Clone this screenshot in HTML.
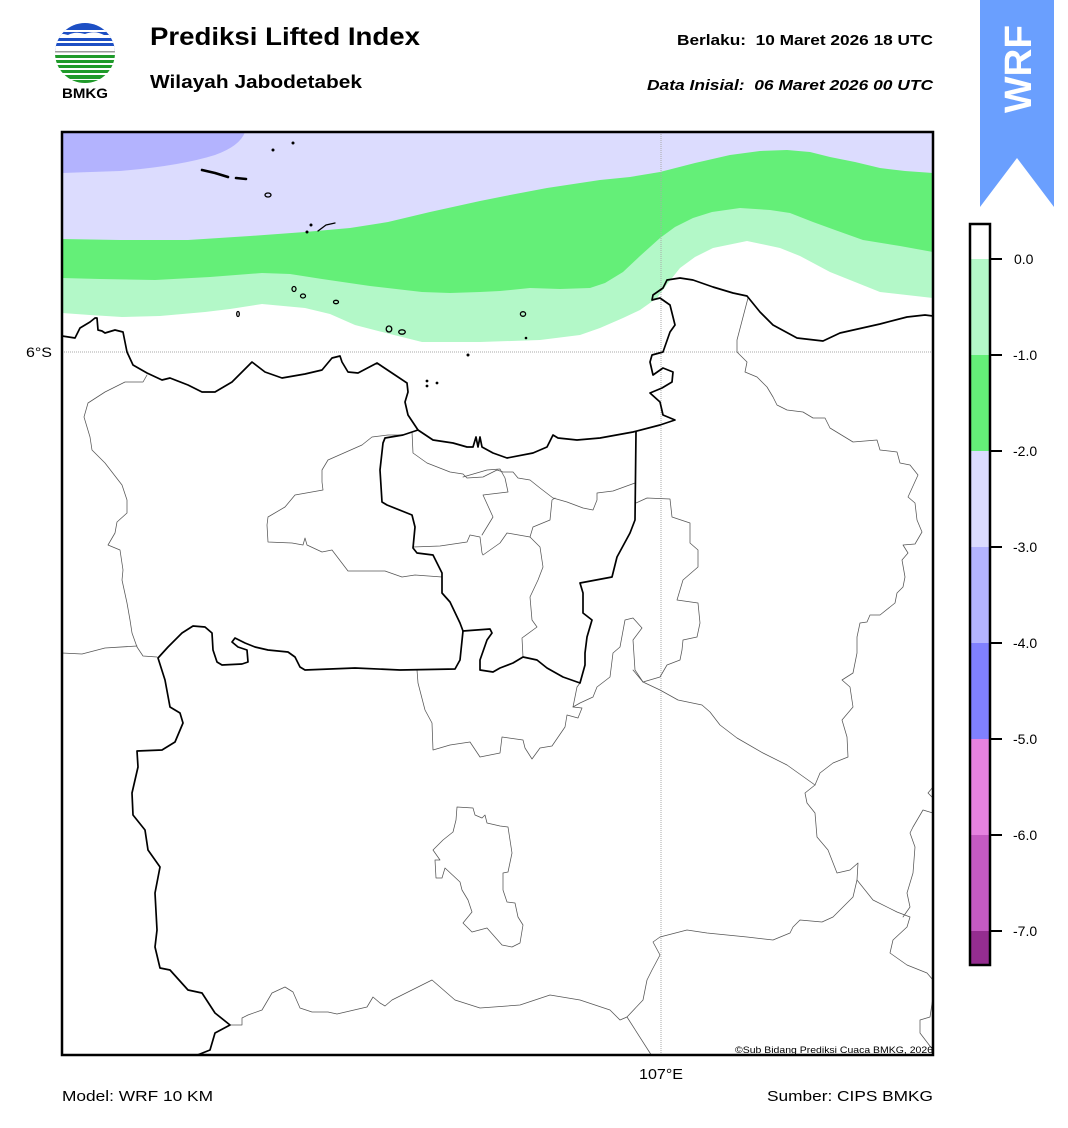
<!DOCTYPE html>
<html><head><meta charset="utf-8"><style>
html,body{margin:0;padding:0;background:#fff;}
svg{display:block;font-family:"Liberation Sans",Arial,sans-serif;}
.t{white-space:pre;}
</style></head><body>
<svg width="1068" height="1128" viewBox="0 0 1068 1128" xmlns="http://www.w3.org/2000/svg">
<defs>
<clipPath id="map"><rect x="62" y="132" width="871" height="923"/></clipPath>
<clipPath id="logo"><circle cx="85" cy="53" r="30"/></clipPath>
</defs>
<rect width="1068" height="1128" fill="#fff"/>

<!-- Logo -->
<g clip-path="url(#logo)">
<rect x="50" y="20" width="70" height="32" fill="#1d4fc4"/>
<rect x="50" y="30" width="70" height="2" fill="#fff"/>
<path d="M50,36 Q60,32 68,35 Q75,31 85,34 Q95,30 104,35 L120,35 L120,38 L50,38 Z" fill="#fff"/>
<rect x="50" y="41" width="70" height="2" fill="#fff"/>
<rect x="50" y="46" width="70" height="2" fill="#fff"/>
<rect x="50" y="48" width="70" height="4" fill="#fff"/>
<rect x="50" y="51" width="70" height="1.5" fill="#9a9a9a"/>
<rect x="50" y="54" width="70" height="36" fill="#fff"/>
<rect x="50" y="55" width="70" height="3" fill="#1f9a2a"/>
<rect x="50" y="60" width="70" height="3" fill="#1f9a2a"/>
<rect x="50" y="65" width="70" height="3" fill="#1f9a2a"/>
<rect x="55" y="70" width="65" height="3" fill="#1f9a2a"/>
<rect x="60" y="75" width="60" height="4" fill="#1f9a2a"/>
<rect x="65" y="80" width="50" height="4" fill="#1f9a2a"/>
</g>
<text x="62" y="98" font-size="14" font-weight="bold" textLength="46" lengthAdjust="spacingAndGlyphs">BMKG</text>

<!-- Titles -->
<text x="150" y="45" font-size="25" font-weight="bold" textLength="270" lengthAdjust="spacingAndGlyphs">Prediksi Lifted Index</text>
<text x="150" y="88" font-size="18" font-weight="bold" textLength="212" lengthAdjust="spacingAndGlyphs">Wilayah Jabodetabek</text>
<text class="t" x="677" y="45" font-size="15" font-weight="bold" textLength="256" lengthAdjust="spacingAndGlyphs">Berlaku:  10 Maret 2026 18 UTC</text>
<text class="t" x="647" y="90" font-size="15" font-weight="bold" font-style="italic" textLength="286" lengthAdjust="spacingAndGlyphs">Data Inisial:  06 Maret 2026 00 UTC</text>

<!-- WRF banner -->
<polygon points="980,0 1054,0 1054,207 1017,158 980,207" fill="#6a9ffe"/>
<text x="0" y="0" font-size="38" font-weight="bold" fill="#fff" text-anchor="middle" transform="translate(1031,69) rotate(-90)" textLength="88" lengthAdjust="spacingAndGlyphs">WRF</text>

<!-- Map fills -->
<g clip-path="url(#map)">
<path d="M62,132 L933,132 L933,298 L880,292 L830,272 L800,256 L780,248 L747,241 L713,248 L695,257 L680,268 L668,283 L657,298 L640,310 L623,318 L600,328 L580,335 L540,340 L480,342 L422,342 L390,334 L355,325 L330,314 L305,308 L262,304 L230,309 L205,312 L160,316 L122,317 L90,315 L62,313 Z" fill="#b3f8c8"/>
<path d="M62,132 L933,132 L933,252 L900,246 L863,240 L835,230 L813,222 L790,213 L770,210 L740,208 L712,212 L693,218 L675,227 L660,238 L640,256 L623,272 L605,283 L590,288 L560,289 L530,288 L500,291 L480,292 L450,293 L422,292 L370,286 L322,279 L290,274 L262,273 L210,277 L155,280 L100,279 L62,278 Z" fill="#64ef78"/>
<path d="M62,132 L933,132 L933,173 L905,171 L880,168 L855,162 L830,157 L810,152 L787,150 L760,151 L730,155 L695,163 L660,172 L630,177 L600,180 L547,188 L505,196 L480,201 L430,212 L388,222 L350,228 L305,232 L250,236 L188,240 L120,240 L62,239 Z" fill="#dcdcfe"/>
<path d="M62,132 L245,132 Q240,146 215,155 Q180,166 120,171 L62,173 Z" fill="#b3b3fe"/>
</g>

<!-- Grid lines -->
<line x1="62" y1="352" x2="933" y2="352" stroke="#aaa" stroke-width="1" stroke-dasharray="1,1"/>
<line x1="661" y1="132" x2="661" y2="1055" stroke="#aaa" stroke-width="1" stroke-dasharray="1,1"/>

<g clip-path="url(#map)" fill="none" stroke-linejoin="round" stroke-linecap="round">
<!-- thin admin borders -->
<g stroke="#555" stroke-width="0.75">
<path d="M147,375 L143,382 L125,382 L105,392 L88,403 L84,417 L90,437 L92,450 L105,463 L122,485 L127,500 L127,513 L117,522 L115,533 L108,545 L120,550 L123,570 L122,580 L127,603 L130,620 L132,633 L137,647 L143,656 L157,657"/>
<path d="M137,646 L105,648 L82,654 L62,653"/>
<path d="M412,432 L403,435 L388,435 L372,437 L362,445 L328,460 L322,470 L322,482 L323,490 L295,495 L285,507 L268,517 L267,525 L268,542 L292,543 L303,545 L305,538 L307,545 L322,552 L332,550 L348,571 L385,571 L402,577 L415,575 L442,577"/>
<path d="M412,432 L413,453 L427,463 L450,472 L463,474 L467,478 L483,477 L497,470 L503,472 L513,472 L518,478 L530,480 L540,488 L553,498 L567,502 L583,508 L593,510 L597,500 L597,493 L613,491 L635,483"/>
<path d="M413,547 L440,546 L467,542 L470,535 L480,537 L482,553 L483,555 L500,543 L507,533 L530,537 L540,547 L543,567 L538,580 L530,597 L532,620 L537,627 L522,638 L523,657"/>
<path d="M463,477 L487,470 L500,469 L505,478 L508,492 L483,495 L493,517 L482,535"/>
<path d="M530,537 L533,527 L550,520 L552,500 L555,498"/>
<path d="M636,503 L647,498 L670,499 L672,517 L690,523 L690,543 L698,550 L698,567 L683,580 L677,600 L698,603 L700,623 L697,637 L683,640 L682,650 L680,660 L667,665 L660,677 L643,682"/>
<path d="M643,682 L635,670 L633,640 L642,628 L633,618 L625,620 L620,647 L613,653 L610,677 L597,687 L593,697 L580,703 L573,707 L577,687 L580,683"/>
<path d="M633,670 L643,682 L660,690 L678,700 L702,705 L710,712 L720,725 L737,738 L763,753 L787,765 L815,785"/>
<path d="M748,298 L737,340 L737,352 L747,362 L745,372 L757,377 L767,387 L773,397 L777,405 L787,410 L803,412 L813,418 L825,418 L830,428 L853,442 L877,440 L880,450 L897,452 L900,463 L910,465 L918,475 L908,497 L915,503 L917,520 L922,532 L915,544 L903,545 L908,553 L902,560 L905,577 L903,587 L897,593 L895,603 L880,615 L870,615 L867,622 L860,623 L857,637 L857,653 L853,673 L842,680 L850,687 L853,707 L842,720 L847,737 L848,757 L833,763 L820,773 L815,785 L805,793 L807,803 L815,813 L817,837 L828,850 L837,873 L850,870 L858,863 L857,880 L873,900 L897,912 L910,917 L907,927 L893,940 L890,953 L907,965 L927,973 L933,980"/>
<path d="M857,880 L853,897 L833,917 L822,922 L800,920 L793,927 L790,933 L773,940 L747,937 L707,933 L687,930 L660,937 L653,942 L660,955 L652,970 L647,980 L643,1000 L627,1017 L620,1020 L610,1010 L580,1000 L550,995 L520,1005 L480,1008 L455,1000 L432,980 L392,1000 L385,1006 L380,1003 L373,997 L367,1007 L337,1014 L328,1012 L312,1012 L300,1008 L293,992 L285,987 L272,993 L262,1010 L248,1015 L242,1018 L242,1025 L230,1025"/>
<path d="M627,1017 L650,1053 L652,1056"/>
<path d="M933,787 L928,793 L933,798"/>
<path d="M933,813 L923,810 L913,827 L910,833 L915,847 L913,873 L907,893 L910,907 L903,917"/>
<path d="M933,997 L930,1017 L920,1020 L920,1033 L933,1050"/>
<path d="M417,670 L418,683 L425,710 L432,723 L433,750 L450,745 L470,742 L480,757 L500,753 L502,737 L523,740 L525,748 L532,759 L540,748 L552,746 L565,727 L567,715 L578,718 L582,708 L573,707"/>
<path d="M457,807 L473,808 L475,815 L482,818 L485,815 L487,823 L500,826 L508,827 L512,853 L508,872 L503,873 L503,890 L507,902 L515,903 L518,917 L523,925 L520,943 L512,947 L502,945 L487,928 L472,932 L463,923 L472,912 L468,900 L462,890 L460,882 L445,868 L442,878 L436,878 L435,860 L440,860 L433,850 L443,840 L453,832 L456,820 Z"/>
</g>

<!-- thick: coastline and province borders -->
<g stroke="#000" stroke-width="1.7">
<path d="M62,336 L75,338 L80,328 L90,322 L95,318 L97,318 L98,330 L102,331 L105,333 L115,330 L123,332 L125,342 L127,352 L133,365 L147,373 L162,380 L170,378 L188,385 L202,392 L215,392 L232,382 L242,372 L252,362 L265,372 L282,378 L305,374 L322,370 L332,358 L340,356 L342,362 L348,372 L358,373 L377,363 L395,375 L407,383 L408,392 L405,402 L408,415 L418,430 L433,440 L453,443 L467,447 L473,447 L476,437 L478,447 L480,437 L482,447 L493,453 L507,458 L533,453 L547,447 L553,435 L558,438 L577,440 L600,438 L633,432 L660,425 L675,420 L663,415 L660,402 L650,393 L662,388 L672,382 L673,372 L663,368 L653,375 L650,362 L652,355 L663,352 L670,332 L675,325 L670,305 L660,298 L652,300 L653,295 L663,288 L667,280 L680,278 L693,280 L713,287 L733,293 L747,296 L760,312 L773,325 L797,338 L823,341 L840,333 L880,324 L907,317 L925,315 L933,316"/>
<path d="M418,430 L403,435 L385,438 L383,443 L380,470 L382,502 L387,505 L412,515 L415,527 L413,548 L417,553 L433,555 L442,573 L442,593 L450,602 L460,623 L463,631 L460,660 L455,669 L400,670 L355,668 L305,670 L300,667 L295,657 L288,652 L268,650 L255,647 L245,643 L235,638 L232,642 L238,647 L247,650 L248,662 L242,664 L222,665 L217,662 L213,650 L212,633 L205,627 L193,626 L182,633 L168,647 L158,658 L165,680 L170,707 L180,713 L183,723 L175,742 L162,750 L137,751 L138,767 L132,793 L133,815 L145,830 L148,850 L160,867 L155,893 L157,930 L155,947 L160,968 L170,970 L188,990 L202,993 L215,1013 L230,1025 L215,1033 L210,1050 L195,1056"/>
<path d="M463,631 L490,629 L492,633 L487,640 L480,660 L480,670 L493,672 L500,668 L513,663 L523,657 L537,660 L547,668 L563,677 L580,683 L585,665 L585,653 L587,637 L592,620 L583,613 L583,593 L580,583 L612,577 L617,557 L630,533 L635,520 L636,432"/>
</g>
<!-- islands -->
<g stroke="#000" stroke-width="1.3">
<path d="M202,170 L215,173 L228,177" stroke-width="2.6"/>
<path d="M236,178 L246,179" stroke-width="2.6"/>
<ellipse cx="268" cy="195" rx="3" ry="2"/>
<path d="M318,231 L326,225 L335,223"/>
<ellipse cx="294" cy="289" rx="2" ry="2.5"/>
<ellipse cx="303" cy="296" rx="2.5" ry="2"/>
<ellipse cx="336" cy="302" rx="2.5" ry="1.7"/>
<ellipse cx="238" cy="314" rx="1.3" ry="2.5"/>
<ellipse cx="389" cy="329" rx="2.8" ry="3"/>
<ellipse cx="402" cy="332" rx="3.3" ry="2.2"/>
<ellipse cx="523" cy="314" rx="2.6" ry="2.3"/>
</g>
<g fill="#000">
<circle cx="273" cy="150" r="1.5"/>
<circle cx="293" cy="143" r="1.5"/>
<circle cx="307" cy="232" r="1.5"/>
<circle cx="311" cy="225" r="1.5"/>
<circle cx="468" cy="355" r="1.5"/>
<circle cx="526" cy="338" r="1.3"/>
<circle cx="427" cy="381" r="1.4"/>
<circle cx="427" cy="386" r="1.4"/>
<circle cx="437" cy="383" r="1.4"/>
</g>
</g>

<!-- Map frame -->
<rect x="62" y="132" width="871" height="923" fill="none" stroke="#000" stroke-width="2.5"/>

<text x="933" y="1053" font-size="9.5" text-anchor="end" textLength="198" lengthAdjust="spacingAndGlyphs">©Sub Bidang Prediksi Cuaca BMKG, 2026</text>
<text x="26" y="357" font-size="14" textLength="26" lengthAdjust="spacingAndGlyphs">6°S</text>
<text x="639" y="1079" font-size="15" textLength="44" lengthAdjust="spacingAndGlyphs">107°E</text>
<text x="62" y="1101" font-size="15" textLength="151" lengthAdjust="spacingAndGlyphs">Model: WRF 10 KM</text>
<text x="767" y="1101" font-size="15" textLength="166" lengthAdjust="spacingAndGlyphs">Sumber: CIPS BMKG</text>

<!-- Colorbar -->
<rect x="970" y="224" width="20" height="35" fill="#fff"/>
<rect x="970" y="259" width="20" height="96" fill="#b3f8c8"/>
<rect x="970" y="355" width="20" height="96" fill="#64ef78"/>
<rect x="970" y="451" width="20" height="96" fill="#dcdcfe"/>
<rect x="970" y="547" width="20" height="96" fill="#b3b3fe"/>
<rect x="970" y="643" width="20" height="96" fill="#8080fe"/>
<rect x="970" y="739" width="20" height="96" fill="#e682e0"/>
<rect x="970" y="835" width="20" height="96" fill="#c55ac2"/>
<rect x="970" y="931" width="20" height="34" fill="#952d90"/>
<rect x="970" y="224" width="20" height="741" fill="none" stroke="#000" stroke-width="2.5"/>
<g stroke="#000" stroke-width="2">
<line x1="990" y1="259" x2="1002" y2="259"/>
<line x1="990" y1="355" x2="1002" y2="355"/>
<line x1="990" y1="451" x2="1002" y2="451"/>
<line x1="990" y1="547" x2="1002" y2="547"/>
<line x1="990" y1="643" x2="1002" y2="643"/>
<line x1="990" y1="739" x2="1002" y2="739"/>
<line x1="990" y1="835" x2="1002" y2="835"/>
<line x1="990" y1="931" x2="1002" y2="931"/>
</g>
<g font-size="14">
<text x="1014" y="264">0.0</text>
<text x="1013" y="360">-1.0</text>
<text x="1013" y="456">-2.0</text>
<text x="1013" y="552">-3.0</text>
<text x="1013" y="648">-4.0</text>
<text x="1013" y="744">-5.0</text>
<text x="1013" y="840">-6.0</text>
<text x="1013" y="936">-7.0</text>
</g>
</svg>
</body></html>
